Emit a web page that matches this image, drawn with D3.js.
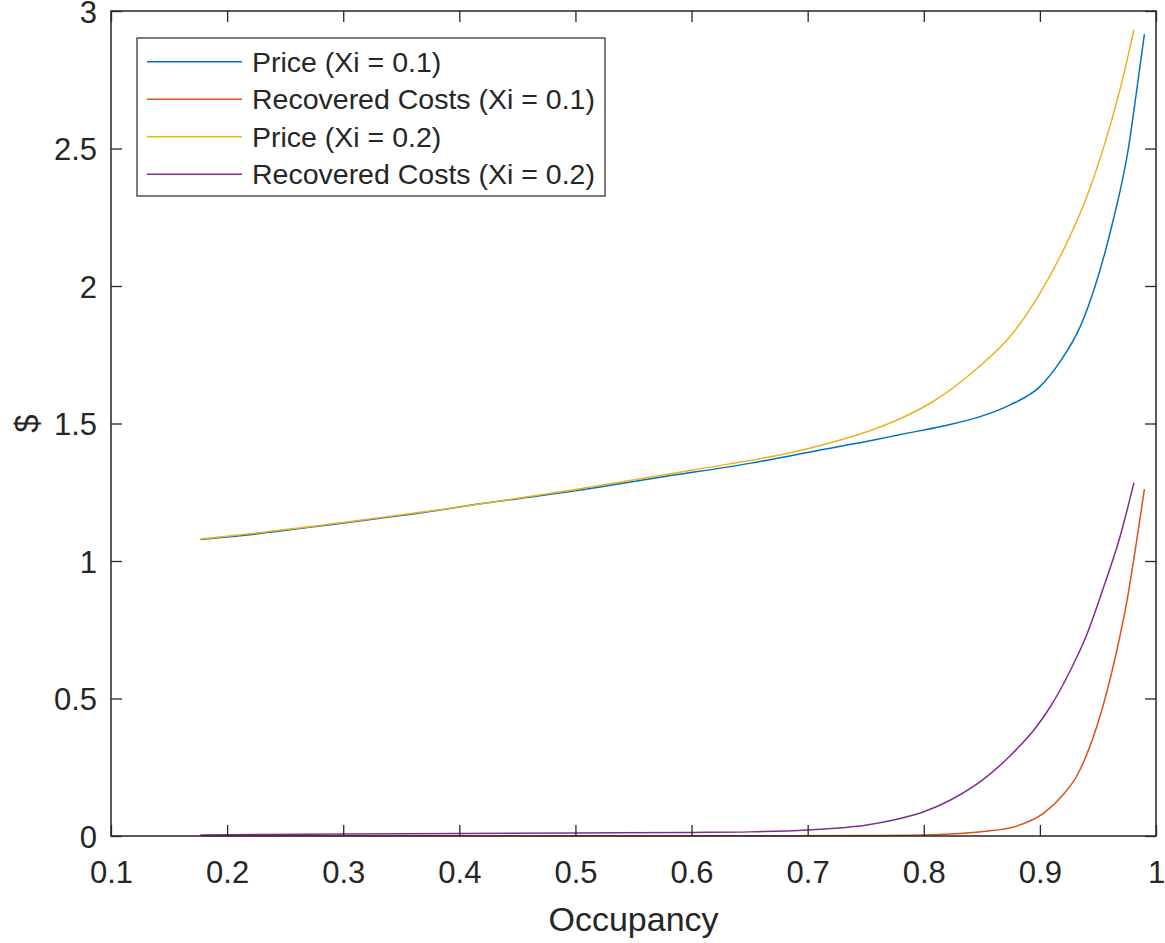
<!DOCTYPE html>
<html>
<head>
<meta charset="utf-8">
<script src="https://cdn.jsdelivr.net/npm/d3@7"></script>
<style>
  html, body { margin: 0; padding: 0; background: #fff; overflow: hidden; }
  svg { display: block; }
  text { font-family: "Liberation Sans", Arial, Helvetica, sans-serif; fill: #262626; }
</style>
</head>
<body>
<div id="chart"></div>
<script>
var width = 1165
var height = 943

// x ticks / y ticks
const xTicks = [0.1, 0.2, 0.3, 0.4, 0.5, 0.6, 0.7, 0.8, 0.9, 1]
const xTickLabels = ["0.1", "0.2", "0.3", "0.4", "0.5", "0.6", "0.7", "0.8", "0.9", "1"]
const yTicks = [0, 0.5, 1, 1.5, 2, 2.5, 3]
const yTickLabels = ["0", "0.5", "1", "1.5", "2", "2.5", "3"]

// Price (Xi = 0.1)
const price1X = [0.177, 0.2, 0.287, 0.35, 0.432, 0.5, 0.577, 0.65, 0.711, 0.757, 0.78, 0.817, 0.8485, 0.874, 0.9, 0.9174, 0.935, 0.9476, 0.962, 0.9762, 0.983, 0.99]
const price1Y = [1.078, 1.087, 1.131, 1.165, 1.216, 1.255, 1.307, 1.355, 1.404, 1.440, 1.460, 1.491, 1.525, 1.567, 1.634, 1.725, 1.855, 2.0, 2.22, 2.5, 2.7, 2.916]

// Recovered Costs (Xi = 0.1)
const cost1X = [0.177, 0.4, 0.6, 0.75, 0.8, 0.823, 0.851, 0.88, 0.903, 0.92, 0.932, 0.943, 0.955, 0.966, 0.975, 0.983, 0.99]
const cost1Y = [0.001, 0.001, 0.001, 0.002, 0.004, 0.007, 0.016, 0.036, 0.082, 0.15, 0.22, 0.325, 0.483, 0.67, 0.855, 1.064, 1.261]

// Price (Xi = 0.2)
const price2X = [0.177, 0.2, 0.3, 0.4, 0.5, 0.6, 0.7, 0.728, 0.751, 0.78, 0.808, 0.843, 0.877, 0.9, 0.923, 0.94, 0.955, 0.969, 0.981]
const price2Y = [1.080, 1.090, 1.140, 1.196, 1.260, 1.330, 1.408, 1.440, 1.470, 1.518, 1.580, 1.690, 1.830, 1.973, 2.155, 2.320, 2.505, 2.715, 2.931]

// Recovered Costs (Xi = 0.2)
const cost2X = [0.177, 0.3, 0.4, 0.5, 0.6, 0.65, 0.7, 0.751, 0.774, 0.8, 0.823, 0.851, 0.874, 0.897, 0.909, 0.926, 0.94, 0.955, 0.969, 0.981]
const cost2Y = [0.004, 0.007, 0.009, 0.011, 0.013, 0.015, 0.022, 0.040, 0.058, 0.088, 0.131, 0.205, 0.29, 0.397, 0.47, 0.60, 0.728, 0.906, 1.088, 1.285]

const seriesNames = ["Price (Xi = 0.1)", "Recovered Costs (Xi = 0.1)", "Price (Xi = 0.2)", "Recovered Costs (Xi = 0.2)"]
const seriesColors = ["#0072BD", "#D95319", "#EDB120", "#7E2F8E"]

const zip = (xs, ys) => xs.map((x, i) => ({x: x, y: ys[i]}))
const series = [zip(price1X, price1Y), zip(cost1X, cost1Y), zip(price2X, price2Y), zip(cost2X, cost2Y)]

var svg = d3.select("#chart").append("svg")
    .attr("width", width)
    .attr("height", height)

const margin = {top: 11, right: 9, bottom: 107, left: 111}
const innerWidth = width - margin.left - margin.right
const innerHeight = height - margin.top - margin.bottom
const tickLen = 11
const tickFont = "31px"

const xScale = d3.scaleLinear().domain([0.1, 1]).range([0, innerWidth])
const yScale = d3.scaleLinear().domain([0, 3]).range([innerHeight, 0])

const g = svg.append("g")
    .attr("transform", `translate(${margin.left}, ${margin.top})`)

const xAxis = d3.axisBottom(xScale)
    .tickValues(xTicks)
    .tickFormat((d, i) => xTickLabels[i])
    .tickSize(-tickLen)
    .tickPadding(25)

const yAxis = d3.axisLeft(yScale)
    .tickValues(yTicks)
    .tickFormat((d, i) => yTickLabels[i])
    .tickSize(-tickLen)
    .tickPadding(14)

const xAxisTop = d3.axisTop(xScale).tickValues(xTicks).tickSize(-tickLen)
const yAxisRight = d3.axisRight(yScale).tickValues(yTicks).tickSize(-tickLen)

// lines
const line = d3.line()
    .x(d => xScale(d.x))
    .y(d => yScale(d.y))
    .curve(d3.curveMonotoneX)

series.forEach((s, i) => {
    g.append("path")
        .attr("d", line(s))
        .attr("fill", "none")
        .attr("stroke", seriesColors[i])
        .attr("stroke-width", 1.5)
})

const xAxisG = g.append("g").attr("transform", `translate(0, ${innerHeight})`).call(xAxis)
const yAxisG = g.append("g").call(yAxis)
const xTopG = g.append("g").call(xAxisTop)
const yRightG = g.append("g").attr("transform", `translate(${innerWidth}, 0)`).call(yAxisRight)

// top/right axes only carry tick marks
xTopG.selectAll("text").remove()
yRightG.selectAll("text").remove()

;[xAxisG, yAxisG, xTopG, yRightG].forEach(a => {
    a.select(".domain").remove()
    a.selectAll("line").attr("stroke", "#262626").attr("stroke-width", 1.3)
    a.selectAll("text").style("font-size", tickFont).attr("fill", "#262626")
        .style("font-family", "'Liberation Sans', Arial, Helvetica, sans-serif")
})
yAxisG.selectAll("text").attr("dy", "0.37em")

g.append("rect")
    .attr("width", innerWidth)
    .attr("height", innerHeight)
    .attr("fill", "none")
    .attr("stroke", "#262626")
    .attr("stroke-width", 1.5)

// axis labels
svg.append("text")
    .attr("x", margin.left + innerWidth / 2)
    .attr("y", 931)
    .attr("text-anchor", "middle")
    .style("font-size", "34px")
    .text("Occupancy")

svg.append("text")
    .attr("transform", `translate(38, ${margin.top + innerHeight / 2}) rotate(-90)`)
    .attr("text-anchor", "middle")
    .style("font-size", "33px")
    .text("$")

// legend
const legend = svg.append("g").attr("transform", "translate(137, 38)")
legend.append("rect")
    .attr("width", 468)
    .attr("height", 158)
    .attr("fill", "#fff")
    .attr("stroke", "#262626")
    .attr("stroke-width", 1.2)

seriesNames.forEach((name, i) => {
    const yy = 23.7 + i * 37.5
    legend.append("line")
        .attr("x1", 10).attr("x2", 105)
        .attr("y1", yy).attr("y2", yy)
        .attr("stroke", seriesColors[i])
        .attr("stroke-width", 1.5)
    legend.append("text")
        .attr("x", 115)
        .attr("y", yy)
        .attr("dy", "0.35em")
        .style("font-size", "28.5px")
        .text(name)
})
</script>
</body>
</html>
